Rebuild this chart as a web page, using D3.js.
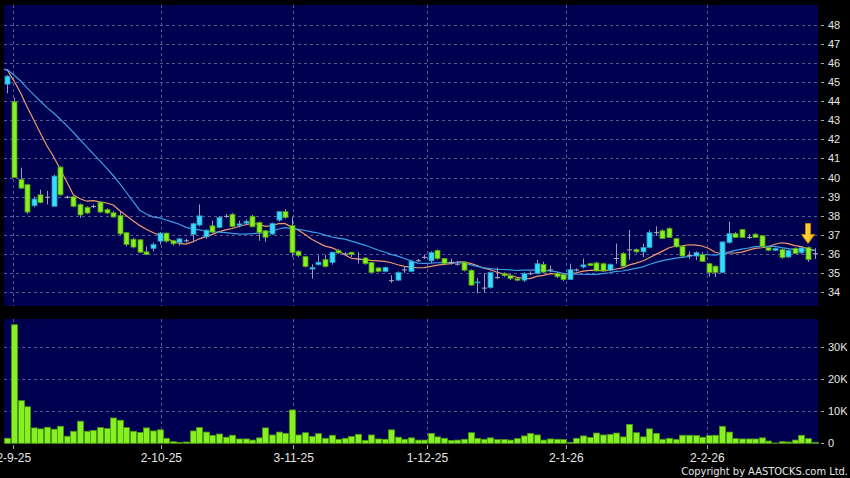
<!DOCTYPE html>
<html>
<head>
<meta charset="utf-8">
<style>
  body { margin: 0; background: #000; }
  svg { display: block; font-family: "DejaVu Sans Condensed", "DejaVu Sans", sans-serif; }
  .grid line { stroke: #5a5a90; stroke-dasharray: 3,3; shape-rendering: crispEdges; }
  .axis text { fill: #e6e6e6; font-size: 11px; }
  .axis line { stroke: #aaaaaa; shape-rendering: crispEdges; }
  .axis path { display: none; }
  .xaxis text { font-size: 12px; }
</style>
</head>
<body>
<script src="https://cdn.jsdelivr.net/npm/d3@7"></script>
<script>

// Daily OHLC (one entry per trading day)
var opens = [44.88,43.96,39.90,39.63,38.53,39.10,39.00,38.50,40.55,39.00,
  39.00,38.60,38.45,38.51,38.72,38.33,38.16,38.02,37.12,36.78,
  36.75,36.12,36.30,36.68,37.10,36.70,36.60,36.72,37.03,37.52,
  36.90,37.48,37.40,38.00,38.08,37.50,37.62,37.98,37.65,37.22,
  37.05,37.78,38.22,37.50,36.15,35.87,35.22,35.45,35.72,35.56,
  36.20,36.03,36.10,35.77,35.80,35.56,35.28,35.10,34.64,34.64,
  35.20,35.10,35.68,35.86,35.65,36.19,35.77,35.60,35.50,35.58,
  35.16,34.50,34.25,34.25,34.80,35.00,34.88,34.72,34.64,35.00,
  34.99,35.47,35.20,35.00,34.93,34.67,35.20,35.33,35.50,35.54,
  35.50,35.16,35.80,36.03,36.25,36.24,36.12,36.35,37.15,37.22,
  37.34,36.82,36.41,35.95,35.90,35.98,35.50,35.37,35.04,36.60,
  37.08,37.29,36.90,37.04,36.96,36.35,36.20,36.24,35.85,36.30,
  36.07,36.35,36.05];
var highs = [45.35,44.17,40.52,39.68,39.00,39.37,39.30,40.15,40.60,39.05,
  39.05,38.65,38.50,38.60,38.75,38.40,38.25,38.20,37.15,36.85,
  36.78,36.40,36.60,37.15,37.12,36.75,36.85,36.80,37.65,38.60,
  37.30,37.75,38.00,38.10,38.15,37.75,37.80,38.05,37.70,37.25,
  37.65,38.25,38.35,37.92,36.20,35.90,35.47,35.94,35.95,36.12,
  36.25,36.10,36.12,36.12,35.85,35.60,35.32,35.35,34.90,35.10,
  35.38,35.70,35.75,35.95,36.15,36.25,35.80,35.75,35.60,35.62,
  35.20,34.76,35.00,35.10,35.30,35.05,34.95,34.80,35.05,35.10,
  35.70,35.60,35.40,35.05,35.00,35.50,35.25,35.77,35.55,35.60,
  35.55,35.50,36.55,36.10,37.26,36.30,36.55,37.25,37.45,37.30,
  37.40,36.85,36.45,36.15,36.15,36.10,35.55,35.40,36.65,37.70,
  37.15,37.32,37.05,37.10,37.00,36.40,36.35,36.30,36.25,36.35,
  36.40,36.40,36.31];
var lows = [44.40,40.00,39.40,38.10,38.45,38.65,38.60,38.50,39.05,38.90,
  38.45,37.90,38.10,38.40,38.15,38.10,37.90,37.00,36.40,36.30,
  36.05,35.95,36.15,36.50,36.60,36.45,36.45,36.60,36.63,37.45,
  36.80,37.10,37.35,37.90,37.40,37.40,37.55,37.40,36.70,36.65,
  37.00,37.70,37.85,35.86,35.85,35.30,34.72,35.40,35.30,35.45,
  36.00,35.95,35.85,35.50,35.45,35.00,35.05,35.05,34.50,34.60,
  35.03,35.05,35.60,35.75,35.55,35.70,35.45,35.45,35.40,35.10,
  34.35,33.95,34.00,34.20,34.70,34.80,34.65,34.58,34.55,34.90,
  34.95,35.00,35.05,34.75,34.60,34.65,35.10,35.25,35.38,35.10,
  35.10,35.10,35.50,35.35,35.70,36.05,35.85,36.30,36.95,36.80,
  36.85,36.35,35.85,35.75,35.70,35.60,34.83,34.80,35.00,36.55,
  36.85,36.85,36.80,36.85,36.40,36.15,36.15,35.75,35.80,36.00,
  36.00,35.60,35.75];
var closes = [45.30,40.00,39.45,38.20,38.88,38.70,39.00,40.08,39.10,39.00,
  38.50,38.05,38.15,38.51,38.20,38.15,37.94,37.06,36.50,36.37,
  36.10,35.98,36.50,37.10,36.68,36.54,36.80,36.72,37.59,38.00,
  37.25,37.15,37.92,38.00,37.45,37.58,37.72,37.43,37.12,36.88,
  37.60,38.22,37.92,36.08,35.93,35.35,35.30,35.58,35.35,36.10,
  36.06,36.03,35.98,35.77,35.50,35.04,35.10,35.30,34.64,35.04,
  35.20,35.63,35.68,35.86,36.08,35.77,35.50,35.60,35.50,35.16,
  34.38,34.55,34.25,35.04,34.80,34.88,34.72,34.64,34.99,35.00,
  35.50,35.06,35.20,34.82,34.67,35.20,35.20,35.44,35.40,35.12,
  35.12,35.47,35.80,35.37,36.25,36.12,36.35,37.13,37.15,36.82,
  36.87,36.38,35.90,35.95,36.08,35.62,35.04,35.04,36.64,37.08,
  36.87,36.87,36.90,36.87,36.41,36.20,36.30,35.82,36.20,36.03,
  36.33,35.72,36.05];
var volumes = [1560,37000,13300,11400,4800,4500,5000,4400,5300,2200,
  3750,6900,3750,4000,4900,4600,7900,7200,4900,3750,
  3400,4800,3850,4200,1560,500,300,400,3850,4900,
  3500,2500,2900,1900,2500,1350,1350,1000,1700,4800,
  2600,3500,3100,10400,2600,3300,2100,3000,1560,2500,
  1250,1560,2100,2800,900,2600,1350,1250,4200,1900,
  1250,1700,1000,1000,3100,2000,1560,900,1000,1250,
  3300,1560,1250,1700,1150,1150,1000,1460,2300,3100,
  2600,1000,1350,1250,1150,300,1560,2300,1800,3200,
  2600,2800,3200,2000,5900,3300,2000,4500,3100,1250,
  1560,1150,2500,2500,2400,1900,2400,2500,5300,3500,
  1460,1350,1350,1350,1700,700,100,500,400,1000,
  2500,1460,300];

// moving averages start from the flat level shown at the left edge
var priorClose = 45.66;
var maPeriods = [10, 20];

// axis ticks
var priceTicks = [34,35,36,37,38,39,40,41,42,43,44,45,46,47,48];
var volumeTicks = [0, 10000, 20000, 30000];
var dateTickPos = [0.9, 23.2, 43.2, 63.4, 84.4, 105.7];
var dateTickLabels = ["2-9-25","2-10-25","3-11-25","1-12-25","2-1-26","2-2-26"];
var arrowIndex = 121;

var W = 850, H = 478;
var n = closes.length;

var svg = d3.select("body").append("svg")
    .attr("width", W)
    .attr("height", H)
    .style("background", "#000");

// scales
var x = d3.scaleLinear().domain([-0.5, n - 0.5]).range([4, 818]);
var y = d3.scaleLinear().domain([33.29, 49.02]).range([306, 5]);
var yv = d3.scaleLinear().domain([0, 38800]).range([443.3, 319]);

// panels
svg.append("rect").attr("x", 4).attr("y", 5).attr("width", 814).attr("height", 301).attr("fill", "#000050");
svg.append("rect").attr("x", 4).attr("y", 319).attr("width", 814).attr("height", 125).attr("fill", "#000050");

// grid
var grid = svg.append("g").attr("class", "grid");
grid.selectAll(".hp").data(priceTicks).enter().append("line")
    .attr("x1", 4).attr("x2", 818)
    .attr("y1", function(d) { return Math.round(y(d)) + 0.5; })
    .attr("y2", function(d) { return Math.round(y(d)) + 0.5; });
grid.selectAll(".hv").data(volumeTicks.slice(1)).enter().append("line")
    .attr("x1", 4).attr("x2", 818)
    .attr("y1", function(d) { return Math.round(yv(d)) + 0.5; })
    .attr("y2", function(d) { return Math.round(yv(d)) + 0.5; });
grid.selectAll(".vp").data(dateTickPos).enter().append("line")
    .attr("x1", function(d) { return Math.round(x(d)) + 0.5; })
    .attr("x2", function(d) { return Math.round(x(d)) + 0.5; })
    .attr("y1", 5).attr("y2", 306);
grid.selectAll(".vv").data(dateTickPos).enter().append("line")
    .attr("x1", function(d) { return Math.round(x(d)) + 0.5; })
    .attr("x2", function(d) { return Math.round(x(d)) + 0.5; })
    .attr("y1", 319).attr("y2", 444);

var idx = d3.range(n);

// moving averages
function sma(period) {
  return closes.map(function(c, i) {
    var s = 0;
    for (var k = i - period + 1; k <= i; k++) s += k < 0 ? priorClose : closes[k];
    return s / period;
  });
}
var maColors = ["#f29a6c", "#3b9fe6"];
var maLine = d3.line().x(function(d) { return d[0]; }).y(function(d) { return y(d[1]); });
maPeriods.forEach(function(p, j) {
  var vals = sma(p);
  var pts = [[x.range()[0], priorClose]].concat(vals.map(function(v, i) { return [x(i), v]; }));
  svg.append("path")
      .attr("d", maLine(pts))
      .attr("fill", "none")
      .attr("stroke", maColors[j])
      .attr("stroke-width", 1.2);
});

// candles
var candles = svg.append("g");
candles.selectAll(".wick").data(idx).enter().append("line")
    .attr("x1", function(i) { return Math.round(x(i)) + 0.5; })
    .attr("x2", function(i) { return Math.round(x(i)) + 0.5; })
    .attr("y1", function(i) { return y(highs[i]); })
    .attr("y2", function(i) { return y(lows[i]); })
    .attr("stroke", "#9d9db3")
    .attr("stroke-width", 1);

candles.selectAll(".body").data(idx).enter().append("rect")
    .attr("x", function(i) { return Math.round(x(i)) - 2; })
    .attr("width", 5)
    .attr("y", function(i) { return y(Math.max(opens[i], closes[i])); })
    .attr("height", function(i) { return Math.max(1, Math.abs(y(opens[i]) - y(closes[i]))); })
    .attr("fill", function(i) {
      if (opens[i] === closes[i]) return "#b0b0c0";
      return closes[i] > opens[i] ? "#36dcff" : "#86f020";
    })
    .attr("stroke", function(i) {
      if (opens[i] === closes[i]) return "none";
      return closes[i] > opens[i] ? "#2a8fb8" : "#4e9a12";
    })
    .attr("stroke-width", 0.8);

// volume bars
svg.append("g").selectAll("rect").data(idx).enter().append("rect")
    .attr("x", function(i) { return Math.round(x(i)) - 2.5; })
    .attr("width", 6)
    .attr("y", function(i) { return yv(volumes[i]); })
    .attr("height", function(i) { return yv(0) - yv(volumes[i]); })
    .attr("fill", "#86f020")
    .attr("stroke", "#4e9a12")
    .attr("stroke-width", 0.8);

// arrow marker over the latest candle
var defs = svg.append("defs");
var grad = defs.append("linearGradient").attr("id", "arw").attr("x1", 0).attr("x2", 1);
grad.append("stop").attr("offset", "0%").attr("stop-color", "#ffe866");
grad.append("stop").attr("offset", "100%").attr("stop-color", "#f5b400");
svg.append("path")
    .attr("transform", "translate(" + x(arrowIndex) + "," + (y(highs[arrowIndex]) - 3) + ")")
    .attr("d", "M-2.5,-20L2.5,-20L2.5,-9L6.5,-9L0,0L-6.5,-9L-2.5,-9Z")
    .attr("fill", "url(#arw)")
    .attr("stroke", "#c98400")
    .attr("stroke-width", 1);

// axes
svg.append("g").attr("class", "axis")
    .attr("transform", "translate(821,0)")
    .call(d3.axisRight(y).tickValues(priceTicks).tickSize(3).tickPadding(4));

svg.append("g").attr("class", "axis")
    .attr("transform", "translate(821,0)")
    .call(d3.axisRight(yv).tickValues(volumeTicks).tickSize(3).tickPadding(4)
      .tickFormat(function(d) { return d === 0 ? "0" : (d / 1000) + "K"; }));

svg.append("g").attr("class", "axis xaxis")
    .attr("transform", "translate(0,445)")
    .call(d3.axisBottom(x).tickValues(dateTickPos).tickSize(4).tickPadding(4)
      .tickFormat(function(d, i) { return dateTickLabels[i]; }));

svg.append("text")
    .attr("x", 848).attr("y", 475)
    .attr("text-anchor", "end")
    .attr("fill", "#e6e6e6")
    .style("font-size", "11px")
    .text("Copyright by AASTOCKS.com Ltd.");

</script>
</body>
</html>
